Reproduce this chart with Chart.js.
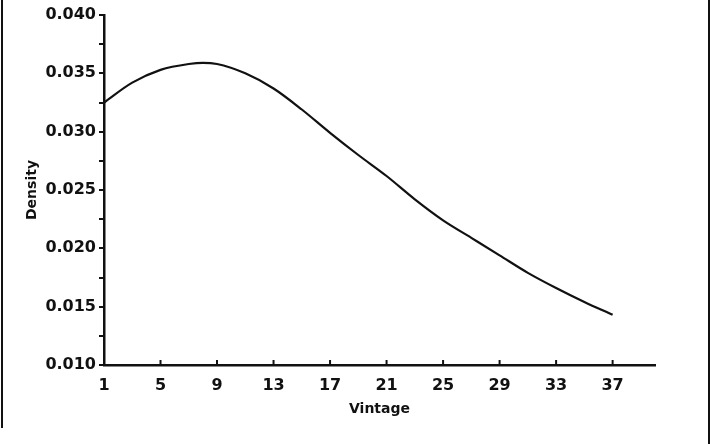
<!DOCTYPE html>
<html>
<head>
<meta charset="utf-8">
<script src="https://cdn.jsdelivr.net/npm/chart.js@4.4.1/dist/chart.umd.min.js"></script>
<style>
  html, body { margin: 0; padding: 0; background: #fff; }
  #wrap { position: relative; width: 711px; height: 444px; overflow: hidden; }
  #edgeL { position: absolute; left: 1px; top: 0; width: 2px; height: 428px; background: #111; }
  #edgeR { position: absolute; left: 708px; top: 0; width: 2px; height: 444px; background: #111; }
</style>
</head>
<body>
<div id="wrap">
  <canvas id="chart" width="711" height="444"></canvas>
  <div id="edgeL"></div>
  <div id="edgeR"></div>
</div>
<script>
// vintage (x) and estimated density (y)
const vintages = [1, 3, 5, 7, 8, 9, 11, 13, 15, 17, 19, 21, 23, 25, 27, 29, 31, 33, 35, 37];
const density = [0.0325, 0.0342, 0.0353, 0.0358, 0.0359, 0.0358, 0.0350, 0.0337, 0.0319, 0.0299,
                 0.0280, 0.0262, 0.0242, 0.0224, 0.0209, 0.0194, 0.0179, 0.0166, 0.0154, 0.0143];
const xTicks = [1, 5, 9, 13, 17, 21, 25, 29, 33, 37];
const yLabels = ['0.010', '0.015', '0.020', '0.025', '0.030', '0.035', '0.040'];

const tickFont = { family: 'DejaVu Sans', size: 16, weight: 'bold' };
const titleFont = { family: 'DejaVu Sans', size: 14, weight: 'bold' };

// x axis tick marks point up into the plot, so draw them by hand
const innerTicks = {
  id: 'innerTicks',
  afterDraw(chart) {
    const x = chart.scales.x, ctx = chart.ctx;
    ctx.save();
    ctx.strokeStyle = '#111';
    ctx.lineWidth = 2;
    xTicks.forEach(v => {
      const px = x.getPixelForValue(v);
      ctx.beginPath();
      ctx.moveTo(px, x.top);
      ctx.lineTo(px, x.top - 5);
      ctx.stroke();
    });
    ctx.restore();
  }
};

new Chart(document.getElementById('chart'), {
  type: 'line',
  data: {
    datasets: [{
      data: vintages.map((v, i) => ({ x: v, y: density[i] })),
      borderColor: '#111',
      borderWidth: 2.2,
      pointRadius: 0,
      cubicInterpolationMode: 'monotone',
      fill: false
    }]
  },
  options: {
    responsive: false,
    animation: false,
    layout: { padding: { left: 0, top: 15, right: 56, bottom: 0 } },
    plugins: { legend: { display: false }, tooltip: { enabled: false } },
    scales: {
      x: {
        type: 'linear',
        min: 1,
        max: 40,
        afterBuildTicks: s => { s.ticks = xTicks.map(v => ({ value: v })); },
        afterFit: s => { s.height = 79; },
        grid: { display: false },
        border: { display: true, color: '#111', width: 2.5 },
        ticks: { color: '#111', font: tickFont, padding: 3, maxRotation: 0, autoSkip: false },
        title: { display: true, text: 'Vintage', color: '#111', font: titleFont, padding: { top: 0, bottom: 26 } }
      },
      y: {
        min: 0.010,
        max: 0.040,
        ticks: {
          stepSize: 0.0025,
          color: '#111',
          font: tickFont,
          padding: 3,
          callback: v => {
            const s = v.toFixed(3);
            return yLabels.includes(s) && Math.abs(v * 200 - Math.round(v * 200)) < 1e-6 ? s : '';
          }
        },
        afterFit: s => { s.width = 104; },
        grid: { drawOnChartArea: false, drawTicks: true, tickLength: 5, color: '#111', lineWidth: 2 },
        border: { display: true, color: '#111', width: 2.5 },
        title: { display: true, text: 'Density', color: '#111', font: titleFont, padding: { top: 24, bottom: 0 } }
      }
    }
  },
  plugins: [innerTicks]
});
</script>
</body>
</html>
